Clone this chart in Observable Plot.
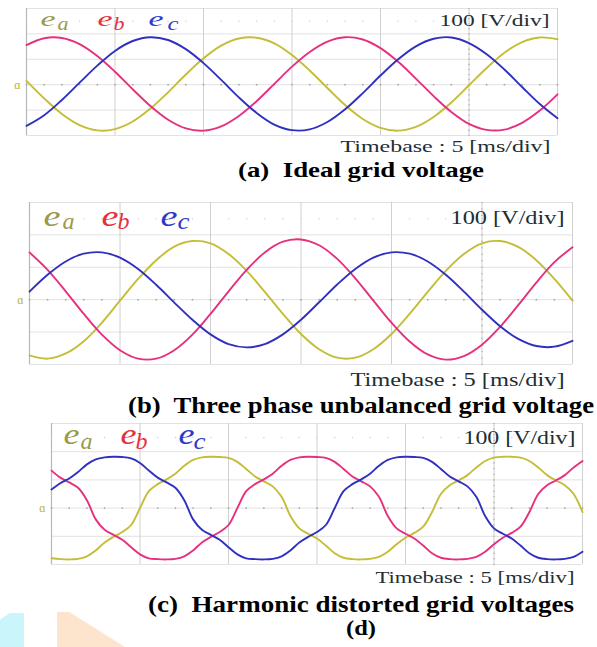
<!DOCTYPE html>
<html>
<head>
<meta charset="utf-8">
<script src="https://cdn.jsdelivr.net/npm/d3@7"></script>
<script src="https://cdn.jsdelivr.net/npm/@observablehq/plot@0.6"></script>
<style>
html, body { margin: 0; padding: 0; background: #fff; }
#page { position: relative; width: 597px; height: 647px; overflow: hidden; background: #fff; font-family: "Liberation Serif", "Times New Roman", serif; }
.panel { position: absolute; left: 0; }
.caption { position: absolute; white-space: pre; font-weight: bold; color: #000; line-height: 1; transform-origin: center; font-family: "Liberation Serif", "Times New Roman", serif; }
.wm { position: absolute; }
</style>
</head>
<body>
<div id="page"></div>
<script>
// ---------------- data (volts, 100 V/div; time in ms, 5 ms/div) ----------------
const timeAB = [0,1,2,3,4,5,6,7,8,9,10,11,12,13,14,15,16,17,18,19,20,21,22,23,24,25,26,27,28,29,30];

// (a) ideal grid voltage
const aEa = [15,-54,-115,-159,-180,-175,-145,-94,-30,40,104,154,182,185,163,117,56,-13,-80,-135,-170,-181,-166,-127,-70,-2,66,126,168,186,179];
const aEb = [156,183,184,160,113,51,-18,-84,-138,-172,-181,-164,-123,-65,3,71,129,170,187,178,144,90,24,-45,-107,-154,-178,-177,-150,-102,-38];
const aEc = [-162,-120,-60,8,75,133,172,187,176,140,85,19,-50,-111,-157,-179,-176,-147,-97,-33,36,100,151,181,186,164,120,60,-9,-76,-132];

// (b) three phase unbalanced grid voltage
const bEa = [-172,-182,-166,-128,-71,-3,64,122,164,181,174,141,89,24,-44,-106,-153,-179,-179,-153,-106,-44,24,89,141,174,181,163,122,64,-3];
const bEb = [146,92,26,-44,-108,-156,-182,-182,-156,-108,-44,26,92,146,179,186,168,126,66,-3,-71,-129,-169,-185,-174,-139,-84,-17,53,116,162];
const bEc = [25,77,118,142,146,130,95,46,-9,-62,-107,-137,-147,-137,-107,-62,-8,47,95,130,146,142,118,77,25,-31,-82,-121,-143,-145,-127];

// (c) harmonic distorted grid voltages
const timeC = [0,0.5,1,1.5,2,2.5,3,3.5,4,4.5,5,5.5,6,6.5,7,7.5,8,8.5,9,9.5,10,10.5,11,11.5,12,12.5,13,13.5,14,14.5,15,15.5,16,16.5,17,17.5,18,18.5,19,19.5,20,20.5,21,21.5,22,22.5,23,23.5,24,24.5,25,25.5,26,26.5,27,27.5,28,28.5,29,29.5,30];
const cEa = [-178,-181,-182,-180,-171,-150,-122,-102,-85,-60,0,60,85,102,122,150,171,180,182,181,178,164,139,112,95,77,40,-28,-72,-91,-108,-133,-160,-176,-181,-182,-180,-173,-155,-128,-105,-88,-66,-14,50,81,98,117,144,167,179,182,182,179,167,144,117,98,81,50,-14];
const cEb = [133,108,91,72,28,-40,-77,-95,-112,-139,-164,-178,-181,-182,-180,-171,-150,-122,-102,-85,-60,0,60,85,102,122,150,171,180,182,181,178,164,139,112,95,77,40,-28,-72,-91,-108,-133,-160,-176,-181,-182,-180,-173,-155,-128,-105,-88,-66,-14,50,81,98,117,144,167];
const cEc = [66,88,105,128,155,173,180,182,181,176,160,133,108,91,72,28,-40,-77,-95,-112,-139,-164,-178,-181,-182,-180,-171,-150,-122,-102,-85,-60,0,60,85,102,122,150,171,180,182,181,178,164,139,112,95,77,40,-28,-72,-91,-108,-133,-160,-176,-181,-182,-180,-173,-155];

const phaseNames = ["a", "b", "c"];
const voltDivText = "100 [V/div]";
const timebaseText = "Timebase : 5 [ms/div]";
const captions = ["(a)  Ideal grid voltage", "(b)  Three phase unbalanced grid voltage", "(c)  Harmonic distorted grid voltages", "(d)"];
const timeGrid = [0, 5, 10, 15, 20, 25, 30];
const voltGrid = [-200, -100, 0, 100, 200, 300];

// ---------------- styles / layout ----------------
const lineColors = ["#c4bd36", "#e6307d", "#3030c0"];
const labelColors = ["#9c9a4a", "#e8303f", "#2f3acb"];
const textColor = "#1e2e32";
const serif = "Liberation Serif, Times New Roman, serif";

const layouts = [
  {top: 0, height: 160, fl: 26, fr: 557, ft: 8, fb: 135,
   eFont: 22, eW: 15, sFont: 18, sW: 11, eDx: [14, 71, 122], sDx: [31, 87, 141], eDy: 17, sDy: 21,
   vFont: 16, vW: 110, vDx: -8, vDy: 17, tFont: 16, tW: 210, tDx: -7, tDy: 16},
  {top: 195, height: 197, fl: 29, fr: 572, ft: 202, fb: 364,
   eFont: 30, eW: 17, sFont: 24, sW: 12, eDx: [14, 72, 131], sDx: [33, 88, 148], eDy: 23, sDy: 26,
   vFont: 19, vW: 114, vDx: -8, vDy: 21, tFont: 19, tW: 214, tDx: -8, tDy: 21},
  {top: 415, height: 173, fl: 51, fr: 582, ft: 423, fb: 564,
   eFont: 29, eW: 16, sFont: 24, sW: 12, eDx: [12, 69, 127], sDx: [29, 84, 142], eDy: 20, sDy: 25,
   vFont: 19, vW: 112, vDx: -7, vDy: 20, tFont: 17, tW: 199, tDx: -8, tDy: 18}
];
const captionLayout = [
  {top: 159.5, size: 21, width: 246},
  {top: 394, size: 23, width: 466},
  {top: 592, size: 24, width: 426},
  {top: 617, size: 22, width: 30}
];

const panelSeries = [
  {time: timeAB, values: [aEa, aEb, aEc]},
  {time: timeAB, values: [bEa, bEb, bEc]},
  {time: timeC, values: [cEa, cEb, cEc]}
];

const minorT = d3.range(0, 30.001, 1);
const minorV = d3.range(-200, 300.001, 20);

const page = document.getElementById("page");

panelSeries.forEach((ps, p) => {
  const L = layouts[p];
  ps.values.forEach(v => { if (v.length !== ps.time.length) throw new Error("length mismatch in panel " + p); });
  const rows = [];
  ps.values.forEach((vals, k) => vals.forEach((v, i) => rows.push({t: ps.time[i], v, phase: phaseNames[k]})));

  const labelMarks = [];
  phaseNames.forEach((name, k) => {
    labelMarks.push(Plot.text(["e"], {text: d => d, frameAnchor: "top-left", textAnchor: "start", lineAnchor: "bottom",
      dx: L.eDx[k], dy: L.eDy, fontSize: L.eFont, fontStyle: "italic", fontFamily: serif, fill: labelColors[k]}));
    labelMarks.push(Plot.text([name], {text: d => d, frameAnchor: "top-left", textAnchor: "start", lineAnchor: "bottom",
      dx: L.sDx[k], dy: L.sDy, fontSize: L.sFont, fontStyle: "italic", fontFamily: serif, fill: labelColors[k]}));
  });

  const svg = Plot.plot({
    width: 597,
    height: L.height,
    marginLeft: L.fl,
    marginRight: 597 - L.fr,
    marginTop: L.ft - L.top,
    marginBottom: L.top + L.height - L.fb,
    x: {domain: [0, 30], axis: null},
    y: {domain: [-200, 300], axis: null},
    color: {domain: phaseNames, range: lineColors},
    style: {background: "transparent", overflow: "visible"},
    marks: [
      Plot.ruleY(voltGrid, {stroke: "#e2e2e2", strokeWidth: 1}),
      Plot.ruleX(timeGrid, {stroke: "#d0d0d0", strokeWidth: 1}),
      Plot.ruleX([0], {stroke: "#b8b8b8", strokeWidth: 1.2}),
      Plot.dot(minorT, {x: d => d, y: () => 0, r: 0.9, fill: "#a6a6a6", stroke: null}),
      Plot.dot(minorT, {x: d => d, y: () => 250, r: 0.8, fill: "#d4d4d4", stroke: null}),
      Plot.dot(minorV, {x: () => 25, y: d => d, r: 0.8, fill: "#b4b4b4", stroke: null}),
      Plot.text(["ɑ"], {text: d => d, x: () => 0, y: () => 0, dx: -6, textAnchor: "end", fontSize: 12, fill: "#b8b03e", fontFamily: serif}),
      Plot.line(rows, {x: "t", y: "v", z: "phase", stroke: "phase", strokeWidth: 1.9, curve: "catmull-rom"}),
      ...labelMarks,
      Plot.text([voltDivText], {text: d => d, frameAnchor: "top-right", textAnchor: "end", lineAnchor: "bottom",
        dx: L.vDx, dy: L.vDy, fontSize: L.vFont, fontFamily: serif, fill: textColor}),
      Plot.text([timebaseText], {text: d => d, frameAnchor: "bottom-right", textAnchor: "end", lineAnchor: "bottom",
        dx: L.tDx, dy: L.tDy, fontSize: L.tFont, fontFamily: serif, fill: textColor})
    ]
  });

  const holder = document.createElement("div");
  holder.className = "panel";
  holder.style.top = L.top + "px";
  holder.appendChild(svg);
  page.appendChild(holder);

  const widths = {"e": L.eW, "a": L.sW, "b": L.sW, "c": L.sW};
  widths[voltDivText] = L.vW;
  widths[timebaseText] = L.tW;
  svg.querySelectorAll("text").forEach(el => {
    const w = widths[el.textContent];
    if (w) {
      el.setAttribute("textLength", w);
      el.setAttribute("lengthAdjust", "spacingAndGlyphs");
    }
  });
});

// captions
captions.forEach((c, i) => {
  const C = captionLayout[i];
  const d = document.createElement("div");
  d.className = "caption";
  d.textContent = c;
  d.style.fontSize = C.size + "px";
  d.style.top = C.top + "px";
  d.style.left = "361px";
  page.appendChild(d);
  const nat = d.getBoundingClientRect().width;
  d.style.transform = `translateX(-50%) scaleX(${C.width / nat})`;
});

// faint watermark shapes at the bottom-left corner of the scan
const wm1 = document.createElement("div");
wm1.className = "wm";
Object.assign(wm1.style, {left: "0px", top: "613px", width: "24px", height: "34px", background: "#c9f5fb",
  clipPath: "polygon(0 20%, 40% 0, 100% 0, 100% 100%, 0 100%)"});
page.appendChild(wm1);
const wm2 = document.createElement("div");
wm2.className = "wm";
Object.assign(wm2.style, {left: "57px", top: "612px", width: "68px", height: "35px", background: "#fde4cc",
  clipPath: "polygon(0 0, 18% 0, 100% 100%, 0 100%)"});
page.appendChild(wm2);
</script>
</body>
</html>
